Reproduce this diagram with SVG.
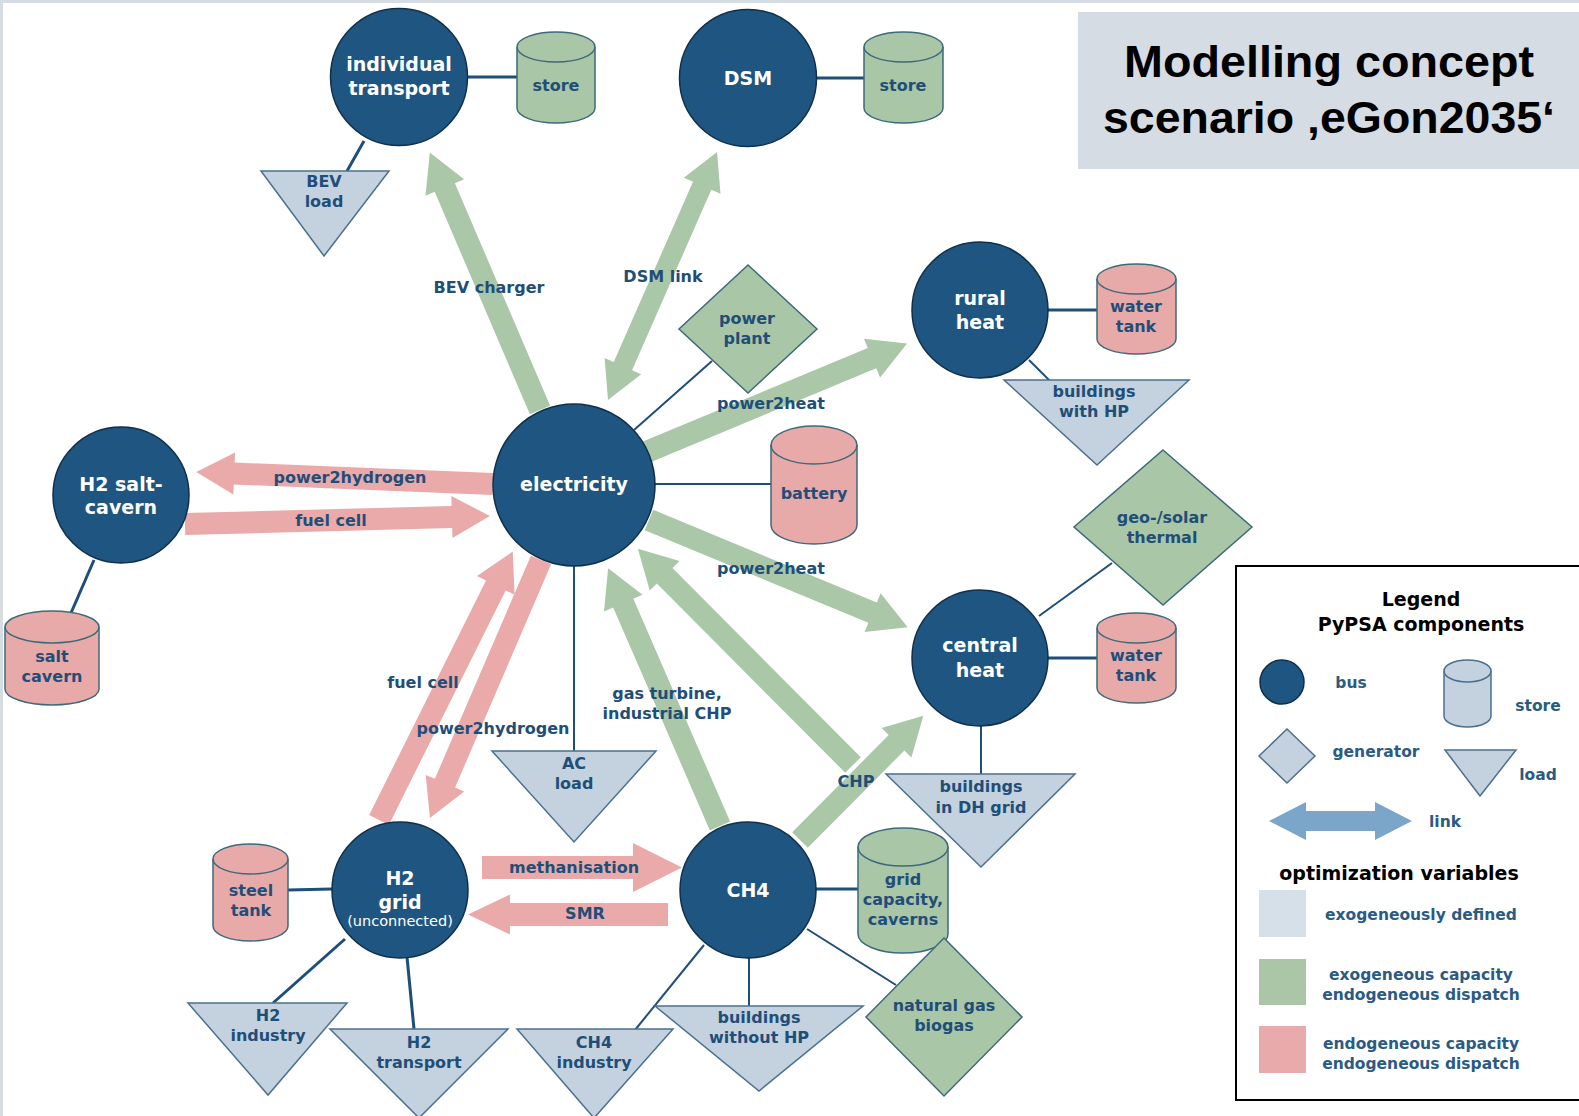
<svg xmlns="http://www.w3.org/2000/svg" width="1579" height="1116" viewBox="0 0 1579 1116">
<style>
.bus{fill:#1f5681;stroke:#0f2f4a;stroke-width:1.5}
.green{fill:#a9c6a7;stroke:#3d6a7a;stroke-width:1.5}
.pink{fill:#e8a9a9;stroke:#3d6a7a;stroke-width:1.5}
.load{fill:#c3d2de;stroke:#4b7090;stroke-width:1.5}
.arc{fill:none;stroke:#3d6a7a;stroke-width:1.5}
.arcl{fill:none;stroke:#4b7090;stroke-width:1.5}
.ga{fill:#aac7a8}
.pa{fill:#e9aaa9}
.la{fill:#7ba6c9}
.ln{stroke:#1f4e79;stroke-width:3;fill:none}
.lt{stroke:#1f4e79;stroke-width:2;fill:none}
.bl{font-family:"DejaVu Sans",sans-serif;font-weight:bold;font-size:19px;fill:#fff;text-anchor:middle}
.sm{font-family:"DejaVu Sans",sans-serif;font-size:14.5px;fill:#fff;text-anchor:middle}
.lb{font-family:"DejaVu Sans",sans-serif;font-weight:bold;font-size:16px;fill:#1f4e79;text-anchor:middle}
.lg{font-family:"DejaVu Sans",sans-serif;font-weight:bold;font-size:15.5px;fill:#2b5b83;text-anchor:middle}
.lh{font-family:"DejaVu Sans",sans-serif;font-weight:bold;font-size:19px;fill:#000;text-anchor:middle}
.tt{font-family:"Liberation Sans",Arial,sans-serif;font-weight:bold;font-size:45px;fill:#000;text-anchor:middle}
</style>
<rect x="0" y="0" width="1579" height="1116" fill="#fff"/>
<rect x="0" y="0" width="1579" height="3" fill="#d6dce4"/>
<rect x="0" y="0" width="3" height="1116" fill="#d6dce4"/>

<g id="title">
<rect x="1078" y="12" width="501" height="157" fill="#d6dce4"/>
<text class="tt" x="1329" y="77" textLength="410" lengthAdjust="spacingAndGlyphs">Modelling concept</text>
<text class="tt" x="1329" y="133" textLength="452" lengthAdjust="spacingAndGlyphs">scenario ‚eGon2035‘</text>
</g>

<g id="connectors">
<line class="ln" x1="466" y1="77" x2="517" y2="77"/>
<line class="ln" x1="364" y1="141" x2="347" y2="171"/>
<line class="ln" x1="815" y1="78" x2="864" y2="78"/>
<line class="ln" x1="1046" y1="310" x2="1097" y2="310"/>
<line class="lt" x1="1029" y1="360" x2="1050" y2="381"/>
<line class="lt" x1="634" y1="430" x2="712" y2="361"/>
<line class="lt" x1="654" y1="484" x2="771" y2="484"/>
<line class="lt" x1="574" y1="564" x2="574" y2="751"/>
<line class="ln" x1="94" y1="560" x2="71" y2="613"/>
<line class="lt" x1="1039" y1="616" x2="1112" y2="563"/>
<line class="ln" x1="1046" y1="658" x2="1097" y2="658"/>
<line class="lt" x1="981" y1="724" x2="981" y2="774"/>
<line class="ln" x1="288" y1="890" x2="332" y2="889"/>
<line class="ln" x1="345" y1="939" x2="273" y2="1003"/>
<line class="ln" x1="407" y1="957" x2="414" y2="1029"/>
<line class="ln" x1="815" y1="889" x2="858" y2="889"/>
<line class="lt" x1="704" y1="945" x2="635" y2="1030"/>
<line class="lt" x1="749" y1="957" x2="749" y2="1006"/>
<line class="lt" x1="807" y1="929" x2="896" y2="985"/>

<polygon class="ga" transform="translate(540,410) rotate(-113.17)" points="0,-11 242,-11 242,-21 280,0 242,21 242,11 0,11"/>
<polygon class="ga" transform="translate(608,400) rotate(-66.27)" points="37,-10 234,-10 234,-20 271,0 234,20 234,10 37,10 37,20 0,0 37,-20"/>
<polygon class="ga" transform="translate(644,453) rotate(-22.6)" points="0,-11 247,-11 247,-21 285,0 247,21 247,11 0,11"/>
<polygon class="ga" transform="translate(649,520) rotate(22.5)" points="0,-11 242,-11 242,-21 280,0 242,21 242,11 0,11"/>
<polygon class="ga" transform="translate(720,826) rotate(-113.46)" points="0,-11 243,-11 243,-21 281,0 243,21 243,11 0,11"/>
<polygon class="ga" transform="translate(853,765) rotate(-134.86)" points="0,-11 267,-11 267,-21 305,0 267,21 267,11 0,11"/>
<polygon class="ga" transform="translate(800,840) rotate(-45.2)" points="0,-11 137,-11 137,-21 175,0 137,21 137,11 0,11"/>
<polygon class="pa" transform="translate(493,484) rotate(182.31)" points="0,-11 259,-11 259,-21 297,0 259,21 259,11 0,11"/>
<polygon class="pa" transform="translate(185,524) rotate(-1.5)" points="0,-11 267,-11 267,-21 305,0 267,21 267,11 0,11"/>
<polygon class="pa" transform="translate(379,820) rotate(-63.52)" points="0,-11 262,-11 262,-21 300,0 262,21 262,11 0,11"/>
<polygon class="pa" transform="translate(541,560) rotate(113.28)" points="0,-11 243,-11 243,-21 281,0 243,21 243,11 0,11"/>
<polygon class="pa" transform="translate(482,867.5)" points="0,-11.5 151,-11.5 151,-24.5 200,0 151,24.5 151,11.5 0,11.5"/>
<polygon class="pa" transform="translate(668,914.5) rotate(180)" points="0,-11.5 158,-11.5 158,-20 200,0 158,20 158,11.5 0,11.5"/>
</g>

<g id="individual-transport"><circle class="bus" cx="399" cy="77" r="68.5"/><text class="bl" x="399" y="71">individual</text><text class="bl" x="399" y="95">transport</text></g>
<g id="dsm"><circle class="bus" cx="748" cy="78" r="68.5"/><text class="bl" x="748" y="85">DSM</text></g>
<g id="rural-heat"><circle class="bus" cx="980" cy="310" r="68"/><text class="bl" x="980" y="305">rural</text><text class="bl" x="980" y="329">heat</text></g>
<g id="electricity"><circle class="bus" cx="574" cy="485" r="81"/><text class="bl" x="574" y="491">electricity</text></g>
<g id="h2-salt-cavern"><circle class="bus" cx="121" cy="495" r="68"/><text class="bl" x="121" y="491">H2 salt-</text><text class="bl" x="121" y="514">cavern</text></g>
<g id="central-heat"><circle class="bus" cx="980" cy="658" r="68"/><text class="bl" x="980" y="652">central</text><text class="bl" x="980" y="677">heat</text></g>
<g id="h2-grid"><circle class="bus" cx="400" cy="890" r="68"/><text class="bl" x="400" y="885">H2</text><text class="bl" x="400" y="909">grid</text><text class="sm" x="400" y="926">(unconnected)</text></g>
<g id="ch4"><circle class="bus" cx="748" cy="890" r="68"/><text class="bl" x="748" y="897">CH4</text></g>

<g id="store-it"><path class="green" d="M517,47 A39,15 0 0 1 595,47 V108 A39,15 0 0 1 517,108 Z"/><path class="arc" d="M517,47 A39,15 0 0 0 595,47"/><text class="lb" x="556" y="91">store</text></g>
<g id="store-dsm"><path class="green" d="M864,47 A39.5,15 0 0 1 943,47 V108 A39.5,15 0 0 1 864,108 Z"/><path class="arc" d="M864,47 A39.5,15 0 0 0 943,47"/><text class="lb" x="903" y="91">store</text></g>
<g id="water-tank-rural"><path class="pink" d="M1097,279 A39.5,15 0 0 1 1176,279 V339 A39.5,15 0 0 1 1097,339 Z"/><path class="arc" d="M1097,279 A39.5,15 0 0 0 1176,279"/><text class="lb" x="1136" y="312">water</text><text class="lb" x="1136" y="332">tank</text></g>
<g id="battery"><path class="pink" d="M771,445 A43,19 0 0 1 857,445 V525 A43,19 0 0 1 771,525 Z"/><path class="arc" d="M771,445 A43,19 0 0 0 857,445"/><text class="lb" x="814" y="499">battery</text></g>
<g id="water-tank-central"><path class="pink" d="M1097,628 A39.5,15 0 0 1 1176,628 V688 A39.5,15 0 0 1 1097,688 Z"/><path class="arc" d="M1097,628 A39.5,15 0 0 0 1176,628"/><text class="lb" x="1136" y="661">water</text><text class="lb" x="1136" y="681">tank</text></g>
<g id="salt-cavern"><path class="pink" d="M5,627 A47,16 0 0 1 99,627 V689 A47,16 0 0 1 5,689 Z"/><path class="arc" d="M5,627 A47,16 0 0 0 99,627"/><text class="lb" x="52" y="662">salt</text><text class="lb" x="52" y="682">cavern</text></g>
<g id="steel-tank"><path class="pink" d="M213,859 A37.5,15 0 0 1 288,859 V926 A37.5,15 0 0 1 213,926 Z"/><path class="arc" d="M213,859 A37.5,15 0 0 0 288,859"/><text class="lb" x="251" y="896">steel</text><text class="lb" x="251" y="916">tank</text></g>
<g id="grid-capacity"><path class="green" d="M858,847 A45,19 0 0 1 948,847 V934 A45,19 0 0 1 858,934 Z"/><path class="arc" d="M858,847 A45,19 0 0 0 948,847"/><text class="lb" x="903" y="885">grid</text><text class="lb" x="903" y="905">capacity,</text><text class="lb" x="903" y="925">caverns</text></g>

<g id="power-plant"><polygon class="green" points="748,265 817,329 748,393 679,329"/><text class="lb" x="747" y="324">power</text><text class="lb" x="747" y="344">plant</text></g>
<g id="geo-solar"><polygon class="green" points="1163,450 1252,527 1163,605 1074,527"/><text class="lb" x="1162" y="523">geo-/solar</text><text class="lb" x="1162" y="543">thermal</text></g>
<g id="natural-gas"><polygon class="green" points="944,938 1022,1017 944,1096 866,1017"/><text class="lb" x="944" y="1011">natural gas</text><text class="lb" x="944" y="1031">biogas</text></g>

<g id="bev-load"><polygon class="load" points="261,171 389,171 324,256"/><text class="lb" x="324" y="187">BEV</text><text class="lb" x="324" y="207">load</text></g>
<g id="buildings-hp"><polygon class="load" points="1004,380 1189,380 1097,465"/><text class="lb" x="1094" y="397">buildings</text><text class="lb" x="1094" y="417">with HP</text></g>
<g id="ac-load"><polygon class="load" points="492,751 656,751 574,842"/><text class="lb" x="574" y="769">AC</text><text class="lb" x="574" y="789">load</text></g>
<g id="buildings-dh"><polygon class="load" points="886,774 1075,774 981,867"/><text class="lb" x="981" y="792">buildings</text><text class="lb" x="981" y="813">in DH grid</text></g>
<g id="h2-industry"><polygon class="load" points="188,1003 347,1003 268,1095"/><text class="lb" x="268" y="1021">H2</text><text class="lb" x="268" y="1041">industry</text></g>
<g id="h2-transport"><polygon class="load" points="330,1029 508,1029 419,1118"/><text class="lb" x="419" y="1048">H2</text><text class="lb" x="419" y="1068">transport</text></g>
<g id="ch4-industry"><polygon class="load" points="517,1029 673,1029 594,1118"/><text class="lb" x="594" y="1048">CH4</text><text class="lb" x="594" y="1068">industry</text></g>
<g id="buildings-no-hp"><polygon class="load" points="655,1006 863,1006 759,1091"/><text class="lb" x="759" y="1023">buildings</text><text class="lb" x="759" y="1043">without HP</text></g>

<g id="edge-labels">
<text class="lb" x="489" y="293">BEV charger</text>
<text class="lb" x="663" y="282">DSM link</text>
<text class="lb" x="771" y="409">power2heat</text>
<text class="lb" x="771" y="574">power2heat</text>
<text class="lb" x="350" y="483">power2hydrogen</text>
<text class="lb" x="331" y="526">fuel cell</text>
<text class="lb" x="423" y="688">fuel cell</text>
<text class="lb" x="493" y="734">power2hydrogen</text>
<text class="lb" x="667" y="699">gas turbine,</text>
<text class="lb" x="667" y="719">industrial CHP</text>
<text class="lb" x="856" y="787">CHP</text>
<text class="lb" x="574" y="873">methanisation</text>
<text class="lb" x="585" y="919">SMR</text>
</g>

<g id="legend">
<rect x="1236" y="566" width="360" height="534" fill="#fff" stroke="#000" stroke-width="2"/>
<text class="lh" x="1421" y="606">Legend</text>
<text class="lh" x="1421" y="631">PyPSA components</text>
<circle class="bus" cx="1282" cy="682" r="22"/>
<text class="lg" x="1351" y="688">bus</text>
<path class="load" d="M1444,671 A23.5,11 0 0 1 1491,671 V716 A23.5,11 0 0 1 1444,716 Z"/>
<path class="arcl" d="M1444,671 A23.5,11 0 0 0 1491,671"/>
<text class="lg" x="1538" y="711">store</text>
<polygon class="load" points="1287,729 1315,756 1287,783 1259,756"/>
<text class="lg" x="1376" y="757">generator</text>
<polygon class="load" points="1445,750 1516,750 1480,796"/>
<text class="lg" x="1538" y="780">load</text>
<polygon class="la" transform="translate(1269,821)" points="37,-10 106,-10 106,-19 143,0 106,19 106,10 37,10 37,19 0,0 37,-19"/>
<text class="lg" x="1445" y="827">link</text>
<text class="lh" x="1399" y="880">optimization variables</text>
<rect x="1259" y="890" width="47" height="47" fill="#d6e0e8"/>
<text class="lg" x="1421" y="920">exogeneously defined</text>
<rect x="1259" y="959" width="47" height="46" fill="#abc6a7"/>
<text class="lg" x="1421" y="980">exogeneous capacity</text>
<text class="lg" x="1421" y="1000">endogeneous dispatch</text>
<rect x="1259" y="1026" width="47" height="47" fill="#e8aaaa"/>
<text class="lg" x="1421" y="1049">endogeneous capacity</text>
<text class="lg" x="1421" y="1069">endogeneous dispatch</text>
</g>
</svg>
